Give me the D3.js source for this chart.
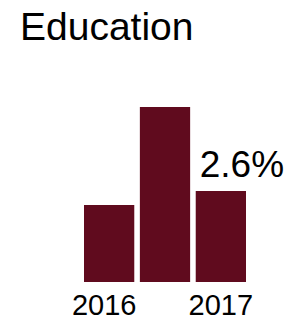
<!DOCTYPE html>
<html lang="en">
<head>
    <meta charset="UTF-8">
    <script src="https://cdn.jsdelivr.net/npm/d3@7"></script>
    <title>Education</title>
    <style>
        body {
            margin: 0;
            background: white;
        }
        text {
            font-family: "Liberation Sans", Arial, sans-serif;
            fill: black;
        }
    </style>
</head>
<body>
    <div class="figure"></div>
    <script>
        const periods = ["2016", "2016b", "2017"];
        const values = [2.2, 5.0, 2.6];
        const tickLabels = ["2016", "", "2017"];
        const valueLabel = "2.6%";

        const width = 295;
        const height = 325;

        const svg = d3.select(".figure").append("svg")
            .attr("width", width)
            .attr("height", height);

        svg.append("text")
            .attr("x", 20)
            .attr("y", 40)
            .style("font-size", "39px")
            .text("Education");

        const x = d3.scaleBand()
            .domain(periods)
            .range([84, 246])
            .paddingInner(0.1)
            .paddingOuter(0);

        const y = d3.scaleLinear()
            .domain([0, 5.0])
            .range([282, 107]);

        svg.selectAll("rect")
            .data(periods)
            .enter()
            .append("rect")
            .attr("x", d => x(d))
            .attr("y", (d, i) => y(values[i]))
            .attr("width", x.bandwidth())
            .attr("height", (d, i) => y(0) - y(values[i]))
            .attr("fill", "#600b1e");

        // label on the last bar
        const last = periods.length - 1;
        svg.append("text")
            .attr("x", x(periods[last]) + 4)
            .attr("y", y(values[last]) - 14)
            .style("font-size", "37px")
            .text(valueLabel);

        svg.selectAll(".tick-label")
            .data(periods)
            .enter()
            .append("text")
            .attr("class", "tick-label")
            .attr("x", d => x(d) + x.bandwidth() / 2)
            .attr("dx", (d, i) => i === 0 ? -5 : 0)
            .attr("y", 315)
            .attr("text-anchor", "middle")
            .style("font-size", "29px")
            .text((d, i) => tickLabels[i]);
    </script>
</body>
</html>
